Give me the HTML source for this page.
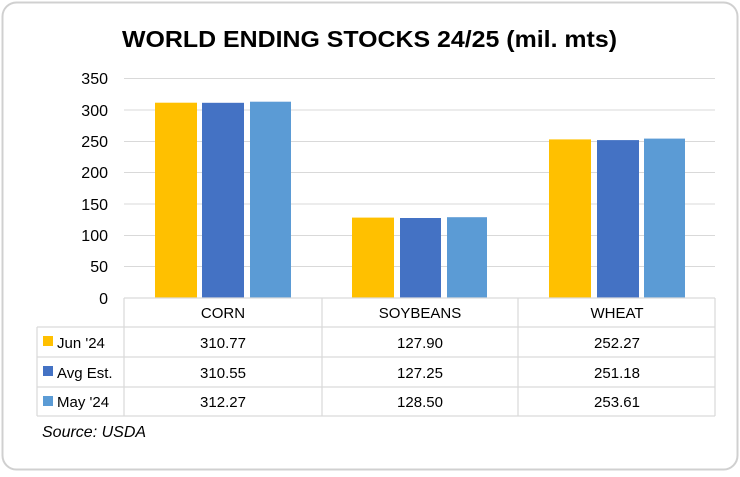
<!DOCTYPE html>
<html><head><meta charset="utf-8"><style>
body{margin:0;background:#fff;width:740px;height:472px;overflow:hidden;font-family:"Liberation Sans",Arial,sans-serif}
</style></head><body>
<svg width="740" height="472" xmlns="http://www.w3.org/2000/svg" font-family="Liberation Sans, Arial, sans-serif">
<rect x="2.5" y="2.5" width="735" height="467" rx="14" fill="#fff" stroke="#d0d0d0" stroke-width="2"/>
<text x="122" y="47" textLength="495" lengthAdjust="spacingAndGlyphs" font-size="23" font-weight="bold" fill="#000">WORLD ENDING STOCKS 24/25 (mil. mts)</text>
<g stroke="#d9d9d9" stroke-width="1">
<line x1="124" x2="715" y1="78.5" y2="78.5"/><line x1="124" x2="715" y1="110" y2="110"/>
<line x1="124" x2="715" y1="141.5" y2="141.5"/><line x1="124" x2="715" y1="172.5" y2="172.5"/>
<line x1="124" x2="715" y1="204" y2="204"/><line x1="124" x2="715" y1="235.5" y2="235.5"/>
<line x1="124" x2="715" y1="266.5" y2="266.5"/>
</g>
<g font-size="16" fill="#000" text-anchor="end">
<text x="108" y="84">350</text><text x="108" y="116">300</text><text x="108" y="147">250</text>
<text x="108" y="178">200</text><text x="108" y="210">150</text><text x="108" y="241">100</text>
<text x="108" y="272">50</text><text x="108" y="304">0</text>
</g>
<g>
<rect x="155" y="102.7" width="42" height="195.3" fill="#ffc000"/>
<rect x="202" y="102.8" width="42" height="195.2" fill="#4472c4"/>
<rect x="250" y="101.7" width="41" height="196.3" fill="#5b9bd5"/>
<rect x="352" y="217.6" width="42" height="80.4" fill="#ffc000"/>
<rect x="400" y="218" width="41" height="80" fill="#4472c4"/>
<rect x="447" y="217.2" width="40" height="80.8" fill="#5b9bd5"/>
<rect x="549" y="139.4" width="42" height="158.6" fill="#ffc000"/>
<rect x="597" y="140.1" width="42" height="157.9" fill="#4472c4"/>
<rect x="644" y="138.6" width="41" height="159.4" fill="#5b9bd5"/>
</g>
<g stroke="#d9d9d9" stroke-width="1.2" fill="none">
<line x1="124" x2="715" y1="298" y2="298"/>
<line x1="37" x2="715" y1="327" y2="327"/>
<line x1="37" x2="715" y1="357" y2="357"/>
<line x1="37" x2="715" y1="387" y2="387"/>
<line x1="37" x2="715" y1="416" y2="416"/>
<line x1="37" x2="37" y1="327" y2="416"/>
<line x1="124" x2="124" y1="298" y2="416"/>
<line x1="322" x2="322" y1="298" y2="416"/>
<line x1="518" x2="518" y1="298" y2="416"/>
<line x1="715" x2="715" y1="298" y2="416"/>
</g>
<g font-size="15" fill="#000" text-anchor="middle">
<text x="223" y="318">CORN</text><text x="420" y="318">SOYBEANS</text><text x="617" y="318">WHEAT</text>
<text x="223" y="348">310.77</text><text x="420" y="348">127.90</text><text x="617" y="348">252.27</text>
<text x="223" y="378">310.55</text><text x="420" y="378">127.25</text><text x="617" y="378">251.18</text>
<text x="223" y="407">312.27</text><text x="420" y="407">128.50</text><text x="617" y="407">253.61</text>
</g>
<rect x="43" y="336" width="10" height="10" fill="#ffc000"/>
<rect x="43" y="366" width="10" height="10" fill="#4472c4"/>
<rect x="43" y="396" width="10" height="10" fill="#5b9bd5"/>
<g font-size="15" fill="#000">
<text x="57" y="348">Jun '24</text><text x="57" y="378">Avg Est.</text><text x="57" y="407">May '24</text>
</g>
<text x="42" y="437" font-size="16" font-style="italic" fill="#000">Source: USDA</text>
</svg>
</body></html>
